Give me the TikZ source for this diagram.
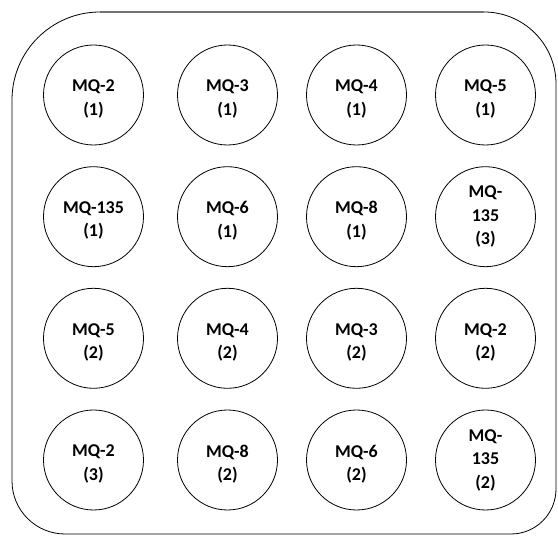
\documentclass[tikz,border=0pt]{standalone}
\usepackage{fontspec}
\setmainfont{Carlito}
\begin{document}
\begin{tikzpicture}[x=1pt,y=1pt,
  sensor/.style={draw,circle,line width=0.8pt,minimum size=100pt,inner sep=0pt},
  lbl/.style={align=center,inner sep=0pt,font=\bfseries\fontsize{18}{23.5}\selectfont}]
\useasboundingbox (0,0) rectangle (558,536);
\draw[line width=0.8pt] (12,436) arc[start angle=180,end angle=90,radius=88]
  -- (484,524) arc[start angle=90,end angle=0,radius=72]
  -- (556,47) arc[start angle=0,end angle=-90,radius=45]
  -- (65,2) arc[start angle=270,end angle=180,radius=53] -- cycle;
\draw[line width=1.4pt,black!55] (100,524) -- (484,524);
\foreach \n/\x/\y/\t/\s in {
  a1/93.5/441/{MQ-2\\(1)}/-4, a2/227.5/441/{MQ-3\\(1)}/-4, a3/356.5/441/{MQ-4\\(1)}/-4, a4/485.5/441/{MQ-5\\(1)}/-4,
  b1/93.5/319.3/{MQ-135\\(1)}/-4, b2/227.5/319.3/{MQ-6\\(1)}/-4, b3/356.5/319.3/{MQ-8\\(1)}/-4, b4/485.5/319.3/{MQ-\\135\\(3)}/0,
  c1/93.5/197.7/{MQ-5\\(2)}/-4, c2/227.5/197.7/{MQ-4\\(2)}/-4, c3/356.5/197.7/{MQ-3\\(2)}/-4, c4/485.5/197.7/{MQ-2\\(2)}/-4,
  d1/93.5/76/{MQ-2\\(3)}/-4, d2/227.5/76/{MQ-8\\(2)}/-4, d3/356.5/76/{MQ-6\\(2)}/-4, d4/485.5/76/{MQ-\\135\\(2)}/0}{
  \node[sensor] (\n) at (\x,\y) {};
  \node[lbl,yshift=\s pt] (t\n) at (\n.center) {\t};
}
\end{tikzpicture}
\end{document}
